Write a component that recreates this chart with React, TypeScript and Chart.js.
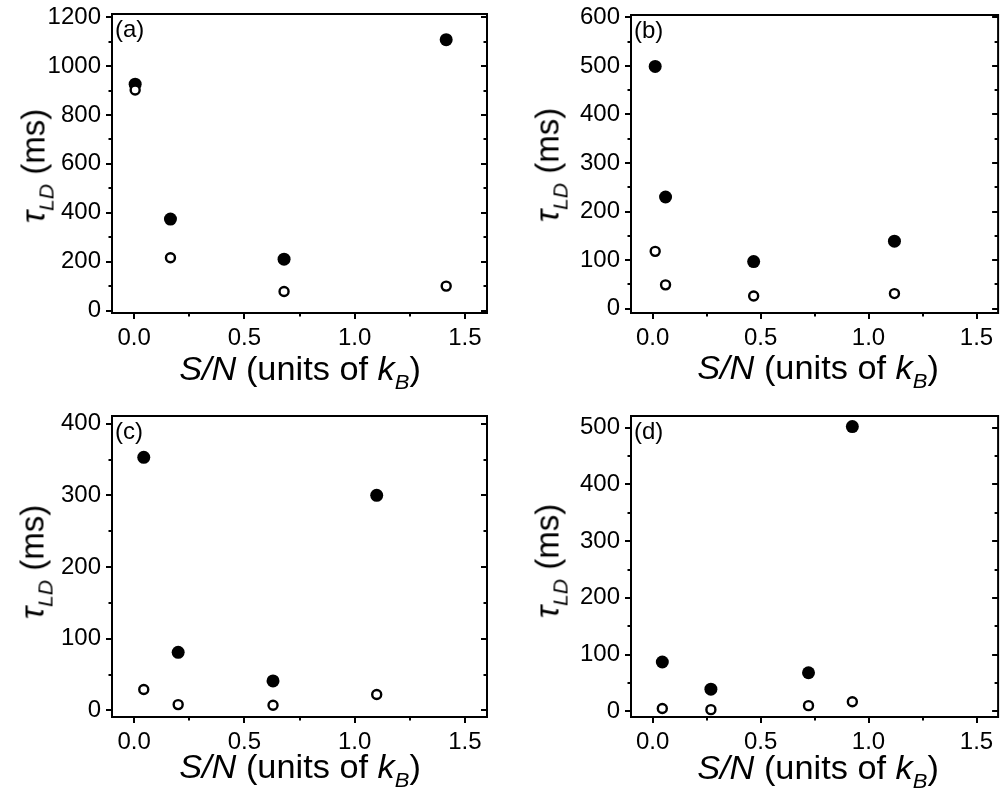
import React, { useEffect, useRef } from "react";
import { Chart, registerables } from "chart.js";

Chart.register(...registerables);

// ---------- data ----------
const panelLabels = ["(a)", "(b)", "(c)", "(d)"];
const xMajorTicks = [0, 0.5, 1.0, 1.5];
const xMinorTicks = [0.25, 0.75, 1.25];

const xA = [0.005, 0.165, 0.68, 1.415];
const filledA = [926, 374, 210, 1108];
const openA = [902, 216, 78, 100];
const yMajorA = [0, 200, 400, 600, 800, 1000, 1200];
const yMinorA = [100, 300, 500, 700, 900, 1100];

const xB = [0.012, 0.06, 0.468, 1.12];
const filledB = [499, 230, 97, 139];
const openB = [118, 49, 26, 31];
const yMajorB = [0, 100, 200, 300, 400, 500, 600];
const yMinorB = [50, 150, 250, 350, 450, 550];

const xC = [0.044, 0.2, 0.63, 1.1];
const filledC = [353, 81, 41, 300];
const openC = [29, 8, 7, 22];
const yMajorC = [0, 100, 200, 300, 400];
const yMinorC = [50, 150, 250, 350];

const xD = [0.045, 0.27, 0.722, 0.925];
const filledD = [87, 39, 68, 502];
const openD = [5, 3, 10, 17];
const yMajorD = [0, 100, 200, 300, 400, 500];
const yMinorD = [50, 150, 250, 350, 450];

const FONT = '"Liberation Sans", Arial, Helvetica, sans-serif';

type Box = { left: number; top: number; width: number; height: number };
type Area = { left: number; top: number; right: number; bottom: number };
type Panel = {
  label: string;
  xs: number[];
  filled: number[];
  open: number[];
  yMajor: number[];
  yMinor: number[];
  yMin: number;
  yMax: number;
  canvas: Box;
  area: Area;
  xTitleBaseline: number;
  yTitleBaseline: number;
  yTitleCy: number;
};

const panels: Panel[] = [
  {
    label: panelLabels[0], xs: xA, filled: filledA, open: openA,
    yMajor: yMajorA, yMinor: yMinorA, yMin: -10, yMax: 1213,
    canvas: { left: 0, top: 0, width: 500, height: 390 },
    area: { left: 112, top: 14, right: 487, bottom: 313 },
    xTitleBaseline: 380, yTitleBaseline: 46, yTitleCy: 166,
  },
  {
    label: panelLabels[1], xs: xB, filled: filledB, open: openB,
    yMajor: yMajorB, yMinor: yMinorB, yMin: -9, yMax: 605,
    canvas: { left: 500, top: 0, width: 505, height: 390 },
    area: { left: 631, top: 15, right: 1004, bottom: 313 },
    xTitleBaseline: 379, yTitleBaseline: 560, yTitleCy: 165,
  },
  {
    label: panelLabels[2], xs: xC, filled: filledC, open: openC,
    yMajor: yMajorC, yMinor: yMinorC, yMin: -9.3, yMax: 410.7,
    canvas: { left: 0, top: 390, width: 500, height: 403 },
    area: { left: 112, top: 416, right: 487, bottom: 717 },
    xTitleBaseline: 778, yTitleBaseline: 45, yTitleCy: 562,
  },
  {
    label: panelLabels[3], xs: xD, filled: filledD, open: openD,
    yMajor: yMajorD, yMinor: yMinorD, yMin: -10, yMax: 520.6,
    canvas: { left: 500, top: 390, width: 505, height: 403 },
    area: { left: 631, top: 416, right: 1004, bottom: 717 },
    xTitleBaseline: 779, yTitleBaseline: 560, yTitleCy: 561,
  },
];

const framePlugin = {
  id: "frameTicks",
  afterDraw(chart: any, _args: any, opts: any) {
    const { ctx, chartArea: a, scales } = chart;
    const xs = scales.x;
    const ys = scales.y;
    ctx.save();
    ctx.strokeStyle = "#000";
    ctx.lineWidth = 2;
    ctx.strokeRect(a.left, a.top, a.right - a.left, a.bottom - a.top);
    const major = 6;
    const minor = 3.5;
    ctx.beginPath();
    for (const v of opts.yMajor) {
      const y = Math.round(ys.getPixelForValue(v));
      ctx.moveTo(a.left - major, y);
      ctx.lineTo(a.left, y);
      ctx.moveTo(a.right, y);
      ctx.lineTo(a.right - major, y);
    }
    for (const v of opts.yMinor) {
      const y = Math.round(ys.getPixelForValue(v));
      ctx.moveTo(a.left - minor, y);
      ctx.lineTo(a.left, y);
      ctx.moveTo(a.right, y);
      ctx.lineTo(a.right - minor, y);
    }
    for (const v of opts.xMajor) {
      const x = Math.round(xs.getPixelForValue(v));
      ctx.moveTo(x, a.bottom);
      ctx.lineTo(x, a.bottom + major);
    }
    for (const v of opts.xMinor) {
      const x = Math.round(xs.getPixelForValue(v));
      ctx.moveTo(x, a.bottom);
      ctx.lineTo(x, a.bottom + minor);
    }
    ctx.stroke();
    ctx.fillStyle = "#000";
    ctx.font = `24px ${FONT}`;
    ctx.textBaseline = "alphabetic";
    ctx.textAlign = "left";
    ctx.fillText(opts.label, a.left + 3, a.top + 23);
    ctx.restore();
  },
};

function PanelChart({ p }: { p: Panel }) {
  const ref = useRef<HTMLCanvasElement | null>(null);
  useEffect(() => {
    if (!ref.current) return;
    const yWidth = p.area.left - p.canvas.left;
    const xHeight = p.canvas.top + p.canvas.height - p.area.bottom;
    const padTop = p.area.top - p.canvas.top;
    const padRight = p.canvas.left + p.canvas.width - p.area.right;
    const chart = new Chart(ref.current, {
      type: "scatter",
      data: {
        datasets: [
          {
            label: "open",
            data: p.xs.map((x, i) => ({ x, y: p.open[i] })),
            pointRadius: 4.5,
            pointHoverRadius: 4.5,
            pointBackgroundColor: "#fff",
            pointBorderColor: "#000",
            pointBorderWidth: 2.4,
          },
          {
            label: "filled",
            data: p.xs.map((x, i) => ({ x, y: p.filled[i] })),
            pointRadius: 6.5,
            pointHoverRadius: 6.5,
            pointBackgroundColor: "#000",
            pointBorderColor: "#000",
            pointBorderWidth: 0,
          },
        ],
      },
      options: {
        animation: false,
        responsive: true,
        maintainAspectRatio: false,
        events: [],
        layout: { padding: { left: 0, top: padTop, right: padRight, bottom: 0 } },
        plugins: {
          legend: { display: false },
          tooltip: { enabled: false },
          frameTicks: {
            yMajor: p.yMajor,
            yMinor: p.yMinor,
            xMajor: xMajorTicks,
            xMinor: xMinorTicks,
            label: p.label,
          },
        } as any,
        scales: {
          x: {
            type: "linear",
            min: -0.1,
            max: 1.6,
            grid: { display: false, drawTicks: false },
            border: { display: false },
            afterBuildTicks: (s: any) => {
              s.ticks = xMajorTicks.map((v) => ({ value: v }));
            },
            afterFit: (s: any) => {
              s.height = xHeight;
              s.paddingLeft = 0;
              s.paddingRight = 0;
            },
            ticks: {
              padding: 11,
              color: "#000",
              maxRotation: 0,
              font: { family: FONT, size: 24 },
              callback: (v: any) => Number(v).toFixed(1),
            },
          },
          y: {
            type: "linear",
            min: p.yMin,
            max: p.yMax,
            grid: { display: false, drawTicks: false },
            border: { display: false },
            afterBuildTicks: (s: any) => {
              s.ticks = p.yMajor.map((v) => ({ value: v }));
            },
            afterFit: (s: any) => {
              s.width = yWidth;
              s.paddingTop = 0;
              s.paddingBottom = 0;
            },
            ticks: {
              padding: 11,
              color: "#000",
              font: { family: FONT, size: 24 },
              callback: (v: any) => String(v),
            },
          },
        },
      },
      plugins: [framePlugin as any],
    });
    return () => chart.destroy();
  }, [p]);
  return (
    <div
      style={{
        position: "absolute",
        left: p.canvas.left,
        top: p.canvas.top,
        width: p.canvas.width,
        height: p.canvas.height,
      }}
    >
      <canvas ref={ref} />
    </div>
  );
}

const TITLE_SIZE = 33;

function XTitle({ p }: { p: Panel }) {
  const cx = (p.area.left + p.area.right) / 2;
  return (
    <div
      style={{
        position: "absolute",
        left: cx,
        top: p.xTitleBaseline - 0.8465 * TITLE_SIZE,
        transform: "translateX(-50%) scaleX(1.04)",
        fontFamily: FONT,
        fontSize: TITLE_SIZE,
        lineHeight: `${TITLE_SIZE}px`,
        whiteSpace: "nowrap",
        color: "#000",
      }}
    >
      <i>S/N</i> (units of <i>k</i>
      <i style={{ fontSize: "0.64em", position: "relative", top: "0.42em" }}>B</i>)
    </div>
  );
}

function YTitle({ p }: { p: Panel }) {
  const cx = p.yTitleBaseline - 0.3465 * TITLE_SIZE;
  return (
    <div
      style={{
        position: "absolute",
        left: cx,
        top: p.yTitleCy,
        transform: "translate(-50%, -50%) rotate(-90deg)",
        fontFamily: FONT,
        fontSize: TITLE_SIZE,
        lineHeight: `${TITLE_SIZE}px`,
        whiteSpace: "nowrap",
        color: "#000",
      }}
    >
      <i>τ</i>
      <i style={{ fontSize: "0.64em", position: "relative", top: "0.42em" }}>LD</i> (ms)
    </div>
  );
}

export default function App() {
  useEffect(() => {
    document.body.style.margin = "0";
  }, []);
  return (
    <div
      style={{
        position: "absolute",
        left: 0,
        top: 0,
        width: 1005,
        height: 793,
        background: "#fff",
        overflow: "hidden",
      }}
    >
      {panels.map((p) => (
        <PanelChart key={p.label} p={p} />
      ))}
      {panels.map((p) => (
        <XTitle key={"x" + p.label} p={p} />
      ))}
      {panels.map((p) => (
        <YTitle key={"y" + p.label} p={p} />
      ))}
    </div>
  );
}
